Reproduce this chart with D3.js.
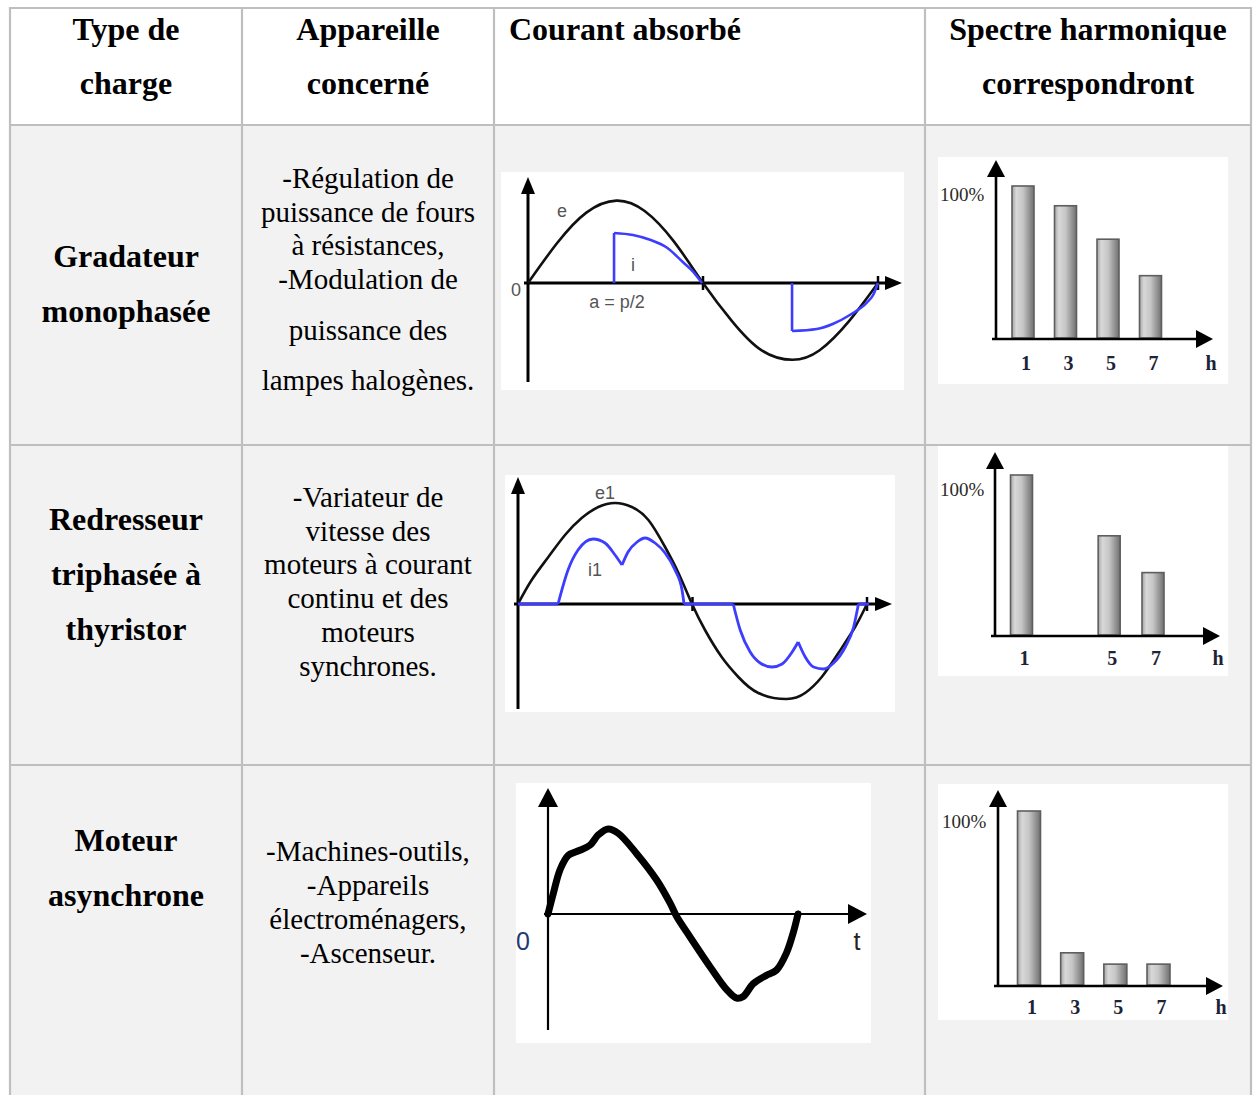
<!DOCTYPE html>
<html><head><meta charset="utf-8">
<script src="https://cdn.jsdelivr.net/npm/d3@7"></script>
<style>body{margin:0;background:#fff}svg{display:block}</style>
</head><body>
<svg id="c" width="1253" height="1095"></svg>
<script>
// ---------------- DATA ----------------
const headers = [["Type de","charge"],["Appareille","concerné"],["Courant absorbé"],["Spectre harmonique","correspondront"]];
const loadTypes = [["Gradateur","monophasée"],["Redresseur","triphasée à","thyristor"],["Moteur","asynchrone"]];
const devices = [
  ["-Régulation de","puissance de fours","à résistances,","-Modulation de","puissance des","lampes halogènes."],
  ["-Variateur de","vitesse des","moteurs à courant","continu et des","moteurs","synchrones."],
  ["-Machines-outils,","-Appareils","électroménagers,","-Ascenseur."]
];
// Waveform 1 (gradateur) : [angle (deg), relative amplitude]
const wave1E = [[0,0],[30,0.5],[60,0.88],[91,1.03],[120,0.9],[150,0.52],[180,0],[210,-0.48],[240,-0.84],[272,-0.96],[300,-0.84],[330,-0.48],[360,0]];
const wave1I = [
  [[88.5,0],[88.5,0.625],[108,0.6],[125.5,0.54],[143,0.44],[159.5,0.26],[170,0.14],[179,0]],
  [[271.6,0],[271.6,-0.6],[297,-0.575],[314,-0.51],[331,-0.4],[349,-0.24],[355,-0.15],[360,0]]
];
const wave1Labels = ["e","i","0","a = p/2"];
// Waveform 2 (redresseur triphasé)
const wave2E = [[0,0],[14.1,0.24],[31.3,0.47],[48.5,0.69],[65.7,0.86],[82.9,0.97],[100.2,1.01],[117.4,0.97],[134.5,0.84],[151.7,0.57],[165.5,0.31],[179.5,0],[192.9,-0.26],[210.1,-0.53],[227.3,-0.73],[247.9,-0.89],[277.2,-0.95],[296.1,-0.89],[313.3,-0.73],[330.5,-0.49],[347.7,-0.23],[360,0]];
const wave2IFlat = [[[0,0],[41.3,0]],[[171.3,0],[222,0]],[[351.2,0],[362,0]]];
const wave2IArcs = [
  [[41.3,0],[51.6,0.34],[61.9,0.54],[77.4,0.65],[89.8,0.61],[100.1,0.49],[107.3,0.39]],
  [[107.3,0.39],[113.5,0.52],[122.8,0.62],[131.1,0.66],[141.4,0.61],[151.7,0.51],[162,0.34],[169.2,0.14],[171.3,0]],
  [[222,0],[229.2,-0.26],[239.5,-0.48],[249.8,-0.59],[262.1,-0.63],[272.4,-0.6],[282.8,-0.48],[289,-0.38]],
  [[289,-0.38],[296.3,-0.53],[304.9,-0.63],[315.2,-0.65],[325.5,-0.59],[337.6,-0.43],[346.2,-0.23],[351.2,0]]
];
const wave2Labels = ["e1","i1"];
// Waveform 3 (moteur asynchrone)
const wave3 = [[0,0],[7.6,0.24],[17.3,0.52],[29.2,0.69],[46,0.75],[60.5,0.81],[72.4,0.93],[86.8,1.0],[101,0.95],[127.7,0.71],[156.5,0.40],[175.7,0.13],[185.3,-0.03],[204.5,-0.27],[233.3,-0.62],[257.3,-0.89],[271.7,-0.99],[281.2,-0.97],[295.6,-0.82],[314.8,-0.72],[329,-0.66],[343.3,-0.46],[352.8,-0.23],[360,0]];
const wave3Labels = ["0","t"];
// Harmonic spectra (% of fundamental)
const spec1Orders = [1,3,5,7], spec1Values = [100,87,65,41];
const spec2Orders = [1,5,7],   spec2Values = [100,62,39];
const spec3Orders = [1,3,5,7], spec3Values = [100,18.5,12,12];
const specTopLabel = "100%", specAxisLabel = "h";

// ---------------- LAYOUT ----------------
const cols = [10,242,494,925,1251];
const rows = [8,125,445,765,1110];
const svg = d3.select("#c");
svg.append("rect").attr("width",1253).attr("height",1095).attr("fill","#fff");
for (let r=1;r<4;r++) svg.append("rect").attr("x",cols[0]).attr("y",rows[r]).attr("width",cols[4]-cols[0]).attr("height",rows[r+1]-rows[r]).attr("fill","#f2f2f2");
const grid = svg.append("g").attr("stroke","#bfbfbf").attr("stroke-width",2.2);
cols.forEach(x=>grid.append("line").attr("x1",x).attr("x2",x).attr("y1",rows[0]-1).attr("y2",1095));
rows.slice(0,4).forEach(y=>grid.append("line").attr("x1",cols[0]-1).attr("x2",cols[4]+1).attr("y1",y).attr("y2",y));

const serif = "'Liberation Serif','Times New Roman',serif";
function txt(x,y,s,opt={}) {
  return svg.append("text").attr("x",x).attr("y",y).text(s)
    .attr("font-family",opt.family||serif).attr("font-size",opt.size||29)
    .attr("font-weight",opt.weight||"normal").attr("fill",opt.fill||"#000")
    .attr("text-anchor",opt.anchor||"middle");
}
// headers
const hb = {size:32, weight:"bold"};
[[126,0],[368,1],[1088,3]].forEach(([x,i])=>headers[i].forEach((s,k)=>txt(x,40+54*k,s,hb)));
txt(509,40,headers[2][0],{...hb,anchor:"start"});
// column 1
const c1Base = [[267,322],[530,585,640],[851,906]];
loadTypes.forEach((ls,r)=>ls.forEach((s,k)=>txt(126,c1Base[r][k],s,hb)));
// column 2
const c2Base = [[188,222,255,289,340,390],[507,541,574,608,642,676],[861,895,929,963]];
devices.forEach((ls,r)=>ls.forEach((s,k)=>txt(368,c2Base[r][k],s,{size:29})));

// panels
[[501,172,403,218],[505,475,390,237],[516,783,355,260],[938,157,290,227],[938,446,290,230],[938,784,290,236]]
  .forEach(([x,y,w,h])=>svg.append("rect").attr("x",x).attr("y",y).attr("width",w).attr("height",h).attr("fill","#fff"));

function arrowUp(g,x,tip,w,len){ g.append("path").attr("d",`M${x},${tip}L${x-w/2},${tip+len}L${x+w/2},${tip+len}Z`).attr("fill","#000"); }
function arrowRight(g,tip,y,w,len){ g.append("path").attr("d",`M${tip},${y}L${tip-len},${y-w/2}L${tip-len},${y+w/2}Z`).attr("fill","#000"); }
function axes(g,x0,yBot,yTip,y0,xTip,sw,aw,al){
  g.append("line").attr("x1",x0).attr("x2",x0).attr("y1",yBot).attr("y2",yTip+al-2).attr("stroke","#000").attr("stroke-width",sw);
  g.append("line").attr("x1",x0-4).attr("x2",xTip-al+2).attr("y1",y0).attr("y2",y0).attr("stroke","#000").attr("stroke-width",sw);
  arrowUp(g,x0,yTip,aw,al); arrowRight(g,xTip,y0,aw,al);
}
const sans = "'Liberation Sans',Arial,sans-serif";

// ---- Waveform 1
{
  const g = svg.append("g");
  const x = d3.scaleLinear([0,360],[528,878]), y = d3.scaleLinear([-1,1],[363,203]);
  axes(g,528,382,177,y(0),902,3,14,17);
  [180,360].forEach(d=>g.append("line").attr("x1",x(d)).attr("x2",x(d)).attr("y1",y(0)-7).attr("y2",y(0)+7).attr("stroke","#000").attr("stroke-width",2.5));
  const smooth = d3.line().x(d=>x(d[0])).y(d=>y(d[1])).curve(d3.curveNatural);
  const lin = d3.line().x(d=>x(d[0])).y(d=>y(d[1]));
  g.append("path").attr("d",smooth(wave1E)).attr("fill","none").attr("stroke","#111").attr("stroke-width",2.6);
  wave1I.forEach(seg=>{
    g.append("path").attr("d",lin(seg.slice(0,2))).attr("fill","none").attr("stroke","#3d3dff").attr("stroke-width",2.6);
    g.append("path").attr("d",d3.line().x(d=>x(d[0])).y(d=>y(d[1])).curve(d3.curveMonotoneX)(seg.slice(1))).attr("fill","none").attr("stroke","#3d3dff").attr("stroke-width",2.6);
  });
  const lo = {family:sans,size:18,fill:"#555"};
  txt(562,217,wave1Labels[0],lo); txt(633,271,wave1Labels[1],lo);
  txt(516,296,wave1Labels[2],lo); txt(617,308,wave1Labels[3],lo);
}
// ---- Waveform 2
{
  const g = svg.append("g");
  const x = d3.scaleLinear([0,360],[518,867]), y = d3.scaleLinear([-1,1],[704,504]);
  axes(g,518,709,477,y(0),892,3,14,17);
  [180,360].forEach(d=>g.append("line").attr("x1",x(d)).attr("x2",x(d)).attr("y1",y(0)-7).attr("y2",y(0)+7).attr("stroke","#000").attr("stroke-width",2.5));
  g.append("path").attr("d",d3.line().x(d=>x(d[0])).y(d=>y(d[1])).curve(d3.curveNatural)(wave2E)).attr("fill","none").attr("stroke","#111").attr("stroke-width",2.6);
  const lin = d3.line().x(d=>x(d[0])).y(d=>y(d[1]));
  const mono = d3.line().x(d=>x(d[0])).y(d=>y(d[1])).curve(d3.curveMonotoneX);
  wave2IFlat.forEach(s=>g.append("path").attr("d",lin(s)).attr("fill","none").attr("stroke","#3d3dff").attr("stroke-width",3));
  wave2IArcs.forEach(s=>g.append("path").attr("d",mono(s)).attr("fill","none").attr("stroke","#3d3dff").attr("stroke-width",2.8));
  const lo = {family:sans,size:18,fill:"#555"};
  txt(605,499,wave2Labels[0],lo); txt(595,576,wave2Labels[1],lo);
}
// ---- Waveform 3
{
  const g = svg.append("g");
  const x = d3.scaleLinear([0,360],[548,798]), y = d3.scaleLinear([-1,1],[999,829]);
  axes(g,548,1030,788,y(0),867,2.2,20,19);
  g.append("path").attr("d",d3.line().x(d=>x(d[0])).y(d=>y(d[1])).curve(d3.curveCatmullRom)(wave3)).attr("fill","none").attr("stroke","#000").attr("stroke-width",7).attr("stroke-linecap","round").attr("stroke-linejoin","round");
  txt(523,950,wave3Labels[0],{family:sans,size:25,fill:"#1f3a70"});
  txt(857,950,wave3Labels[1],{family:sans,size:25,fill:"#2a2018"});
}
// ---- Spectra
const defs = svg.append("defs");
const grad = defs.append("linearGradient").attr("id","barGrad").attr("x1",0).attr("x2",1).attr("y1",0).attr("y2",0);
[[0,"#a4a4a4"],[0.2,"#d8d8d8"],[0.5,"#c6c6c6"],[1,"#707070"]].forEach(([o,c])=>grad.append("stop").attr("offset",o).attr("stop-color",c));
function spectrum(orders, values, L){
  const g = svg.append("g");
  const x = d3.scaleLinear([1,7],[L.x1,L.x7]);
  const y = d3.scaleLinear([0,100],[L.base,L.top]);
  g.selectAll("rect").data(orders).join("rect")
    .attr("x",d=>x(d)-L.bw/2).attr("width",L.bw)
    .attr("y",(d,i)=>y(values[i])).attr("height",(d,i)=>y(0)-y(values[i]))
    .attr("fill","url(#barGrad)").attr("stroke","#5e5e5e").attr("stroke-width",1.6);
  axes(g,L.ax,L.base+1,L.ytip,L.base+1,L.xtip,2.6,18,17);
  g.selectAll("text.t").data(orders).join("text").attr("class","t")
    .attr("x",d=>x(d)+3).attr("y",L.lab).text(d=>String(d))
    .attr("font-family",serif).attr("font-weight","bold").attr("font-size",20).attr("text-anchor","middle").attr("fill","#1c2438");
  txt(L.xtip-2,L.lab,specAxisLabel,{weight:"bold",size:20,fill:"#1c2438"});
  txt(L.pl,y(100)+L.pd,specTopLabel,{size:19,anchor:"start",fill:"#2a2a2a"});
}
spectrum(spec1Orders,spec1Values,{x1:1023,x7:1150.5,bw:22,base:338,top:186,ax:996,ytip:160,xtip:1213,lab:370,pl:940,pd:15});
spectrum(spec2Orders,spec2Values,{x1:1021.5,x7:1153,bw:22,base:635,top:475,ax:995,ytip:452,xtip:1220,lab:665,pl:940,pd:21});
spectrum(spec3Orders,spec3Values,{x1:1029,x7:1158.5,bw:23,base:985,top:811,ax:998,ytip:790,xtip:1223,lab:1014,pl:942,pd:17});
</script>
</body></html>
